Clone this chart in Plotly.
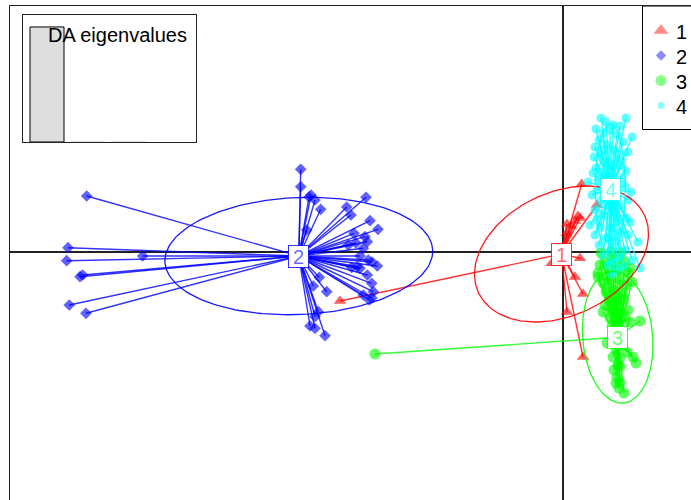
import numpy as np
import plotly.graph_objects as go

# Discriminant function scores (LD1, LD2) per cluster
GROUPS = ["1", "2", "3", "4"]

CENTER_X = [-0.10, -26.37, 5.52, 4.78]
CENTER_Y = [-0.20, -0.40, -8.53, 6.28]

LD1_G1 = [1.92, 3.45, 1.55, 1.75, 1.25, 0.45, 0.85, 0.42, 1.75, 1.25, 2.05, 0.45, 2.05, -22.25, -1.08]
LD2_G1 = [6.80, 4.70, 3.60, 3.40, 3.10, 2.80, 2.60, 1.90, -0.63, -2.50, -4.20, -6.00, -10.50, -4.90, -1.13]

LD1_G2 = [-47.58, -49.45, -49.58, -41.98, -48.25, -47.98, -49.32, -47.65, -26.18, -26.18,
          -25.15, -24.75, -25.35, -24.18, -19.65, -21.58, -21.15, -19.25, -18.45, -20.85,
          -19.75, -19.52, -21.42, -19.92, -20.25, -19.42, -18.52, -20.52, -21.08, -20.25,
          -19.52, -19.08, -18.92, -19.05, -19.92, -19.32, -24.32, -23.58, -24.92, -24.42,
          -24.75, -25.25, -24.75, -23.75, -25.58, -20.65, -19.05]
LD2_G2 = [5.60, 0.43, -0.87, -0.40, -2.47, -2.30, -5.30, -6.13, 8.27, 6.53,
          5.70, 5.20, 5.50, 4.27, 5.47, 4.50, 3.70, 3.13, 2.27, 1.87,
          1.53, 1.03, 0.70, 0.37, -0.40, -0.80, -1.40, -1.47, -1.53, -1.63,
          -2.30, -3.13, -3.97, -4.60, -4.30, -4.80, -2.53, -3.97, -3.40, -5.97,
          -6.47, -7.40, -7.63, -8.37, 2.20, 0.90, -1.00]

LD1_G3 = [3.85, 4.85, 5.85, 3.55, 6.55, 3.55, 6.95, 4.05, 7.75, 6.75,
          7.35, 7.05, 5.75, 5.45, 5.75, 6.15, 4.25, 5.25, 6.25, 4.55,
          5.55, 4.05, 4.85, 5.75, 6.35, 4.35, 5.15, 5.95, 4.65, 5.45,
          6.15, 4.25, 5.05, 5.75, 6.55, 4.75, 5.55, 6.25, 4.95, 5.75,
          4.45, 5.95, 5.35, 6.45, 5.05, 5.75, 5.55, 5.15, 5.65, 5.35,
          3.75, 4.95, 6.75, 4.45, 5.35, -18.75]
LD2_G3 = [-0.10, 0.00, -0.10, -2.10, -2.10, -2.50, -3.00, -6.00, -6.90, -7.00,
          -11.10, -10.50, -11.50, -12.50, -13.10, -14.10, -1.00, -1.00, -1.00, -1.60,
          -1.80, -3.10, -2.80, -2.80, -3.30, -4.00, -3.80, -4.10, -4.80, -5.00,
          -4.80, -5.30, -5.80, -6.00, -5.80, -6.60, -6.80, -6.60, -7.40, -7.60,
          -9.10, -9.30, -9.80, -10.00, -10.50, -10.60, -11.30, -11.80, -13.60, -13.10,
          -1.30, -0.60, -1.60, -2.40, -4.40, -10.20]

LD1_G4 = [3.85, 6.35, 3.35, 5.05, 4.35, 5.75, 6.95, 4.05, 4.75, 5.45,
          3.65, 6.05, 3.25, 4.45, 5.15, 6.55, 3.75, 5.65, 4.15, 6.35,
          3.35, 4.95, 3.05, 2.55, 3.55, 5.95, 6.85, 2.95, 6.55, 3.85,
          5.75, 3.25, 5.25, 4.15, 6.35, 6.75, 2.75, 3.75, 4.85, 3.25,
          5.85, 4.35, 5.35, 7.55, 3.65, 4.85, 6.25, 4.05, 5.75, 6.95,
          5.15, 4.55, 7.75, 5.55, 4.95, 6.15, 3.45, 6.25, 4.15, 5.25,
          4.65, 5.05, 4.25, 5.55, 4.65, 3.85, 5.75, 3.15, 6.55, 4.15, 3.45]
LD2_G4 = [13.40, 13.40, 12.30, 12.70, 13.00, 12.60, 11.50, 11.90, 12.20, 11.70,
          11.20, 11.00, 10.50, 10.70, 10.20, 10.00, 9.70, 9.40, 9.00, 8.10,
          8.40, 8.60, 7.90, 7.00, 7.20, 7.40, 6.00, 5.70, 5.20, 5.20,
          4.70, 4.20, 4.00, 3.70, 3.40, 3.00, 2.70, 2.50, 2.40, 1.70,
          2.00, 1.40, 1.10, 1.00, 0.70, 0.40, 0.20, -0.30, -0.50, -0.80,
          -1.00, -1.30, -1.60, -1.80, -2.20, -1.40, 6.20, 6.60, 7.60, 6.90,
          4.70, 5.70, 6.20, 3.20, 1.20, 8.00, 8.70, 9.50, 1.70, 10.20, 3.20]

# Inertia ellipse parameters (semi-axes in LD units, rotation in degrees)
ELLIPSE_A = [9.16, 13.40, 6.60, 6.50]
ELLIPSE_B = [6.17, 5.85, 3.50, 1.50]
ELLIPSE_ANGLE = [25.0, 2.5, 95.0, 90.0]

# Discriminant analysis eigenvalues
EIGENVALUES = [2950.0, 12.0, 4.0]

SCORES_X = [LD1_G1, LD1_G2, LD1_G3, LD1_G4]
SCORES_Y = [LD2_G1, LD2_G2, LD2_G3, LD2_G4]

RGB = [(255, 0, 0), (0, 0, 255), (0, 255, 0), (0, 255, 255)]
SYMBOLS = ["triangle-up", "diamond", "circle", "circle"]
SIZES = [11, 9, 11, 9]
LEGEND_SIZES = [13, 8, 11, 7]
FONT = "Liberation Sans, Arial, Helvetica, sans-serif"


def rgba(c, a):
    return f"rgba({c[0]},{c[1]},{c[2]},{a})"


fig = go.Figure()

# stars: one segment from each individual to its group centroid, then the points
for g in range(len(GROUPS)):
    cx, cy = CENTER_X[g], CENTER_Y[g]
    sx, sy = [], []
    for x, y in zip(SCORES_X[g], SCORES_Y[g]):
        sx += [cx, x, None]
        sy += [cy, y, None]
    fig.add_trace(go.Scatter(x=sx, y=sy, mode="lines",
                             line=dict(color=rgba(RGB[g], 0.8), width=1.4),
                             hoverinfo="skip"))
    fig.add_trace(go.Scatter(x=SCORES_X[g], y=SCORES_Y[g], mode="markers",
                             marker=dict(symbol=SYMBOLS[g], size=SIZES[g],
                                         color=rgba(RGB[g], 0.62), line=dict(width=0)),
                             name=GROUPS[g]))

# inertia ellipses
t = np.linspace(0, 2 * np.pi, 200)
for g in range(len(GROUPS)):
    th = np.deg2rad(ELLIPSE_ANGLE[g])
    ex = ELLIPSE_A[g] * np.cos(t)
    ey = ELLIPSE_B[g] * np.sin(t)
    fig.add_trace(go.Scatter(
        x=CENTER_X[g] + ex * np.cos(th) - ey * np.sin(th),
        y=CENTER_Y[g] + ex * np.sin(th) + ey * np.cos(th),
        mode="lines", line=dict(color=rgba(RGB[g], 0.9), width=1.3),
        hoverinfo="skip"))

# group labels at centroids
for g in range(len(GROUPS)):
    fig.add_annotation(x=CENTER_X[g], y=CENTER_Y[g], text=GROUPS[g], showarrow=False,
                       font=dict(family=FONT, size=20, color=rgba(RGB[g], 0.6)),
                       bgcolor="white", bordercolor=rgba(RGB[g], 0.8), borderwidth=1,
                       borderpad=0, width=19, height=21)

# eigenvalue inset: only the leading bar carries an outline
fig.add_trace(go.Bar(x=list(range(len(EIGENVALUES))), y=EIGENVALUES, width=0.8333,
                     marker=dict(color="#dedede",
                                 line=dict(color="black",
                                           width=[1] + [0] * (len(EIGENVALUES) - 1))),
                     xaxis="x2", yaxis="y2", hoverinfo="skip"))
fig.add_annotation(xref="x2 domain", yref="y2 domain", x=0.958, y=0.845,
                   xanchor="right", yanchor="middle", text="DA eigenvalues",
                   showarrow=False, font=dict(family=FONT, size=20, color="black"))

# legend (pixel-positioned overlay)
LEG_X, LEG_Y0, LEG_DY = 661, 30.5, 25
fig.add_shape(type="rect", xref="x3", yref="y3", x0=642.5, x1=720, y0=6, y1=129.5,
              line=dict(color="black", width=1), fillcolor="white", layer="below")
fig.add_trace(go.Scatter(
    x=[LEG_X] * len(GROUPS), y=[LEG_Y0 + i * LEG_DY for i in range(len(GROUPS))],
    mode="markers", xaxis="x3", yaxis="y3", hoverinfo="skip",
    marker=dict(symbol=SYMBOLS, size=LEGEND_SIZES,
                color=[rgba(c, 0.65) for c in RGB], line=dict(width=0))))
for i, lab in enumerate(GROUPS):
    fig.add_annotation(xref="x3", yref="y3", x=674, y=LEG_Y0 + i * LEG_DY + 1,
                       xanchor="left", yanchor="middle", text=lab, showarrow=False,
                       font=dict(family=FONT, size=20, color="black"))

W, H, ML, MT = 691, 500, 10, 6
fig.update_layout(
    width=W, height=H, margin=dict(l=ML, r=0, t=MT, b=0),
    paper_bgcolor="white", plot_bgcolor="white", showlegend=False,
    xaxis=dict(range=[-55.25, 12.85], showgrid=False, zeroline=True,
               zerolinecolor="#222", zerolinewidth=1.5, showticklabels=False,
               ticks="", showline=True, side="top", linecolor="#222", linewidth=1),
    yaxis=dict(range=[-24.8, 24.6], showgrid=False, zeroline=True,
               zerolinecolor="#222", zerolinewidth=1.5, showticklabels=False,
               ticks="", showline=True, linecolor="#222", linewidth=1),
    xaxis2=dict(domain=[(23 - ML) / (W - ML), (196 - ML) / (W - ML)], anchor="y2",
                range=[-0.588, 3.65], showgrid=False, zeroline=False,
                showticklabels=False, ticks="", showline=True, mirror=True,
                linecolor="#222", linewidth=1),
    yaxis2=dict(domain=[(H - 142) / (H - MT), (H - 15) / (H - MT)], anchor="x2",
                range=[0, EIGENVALUES[0] * 1.104], showgrid=False, zeroline=False,
                showticklabels=False, ticks="", showline=True, mirror=True,
                linecolor="#222", linewidth=1),
    xaxis3=dict(overlaying="x", anchor="y3", range=[ML, W], visible=False),
    yaxis3=dict(overlaying="y", anchor="x3", range=[H, MT], visible=False),
)

fig.write_html("out.html")
